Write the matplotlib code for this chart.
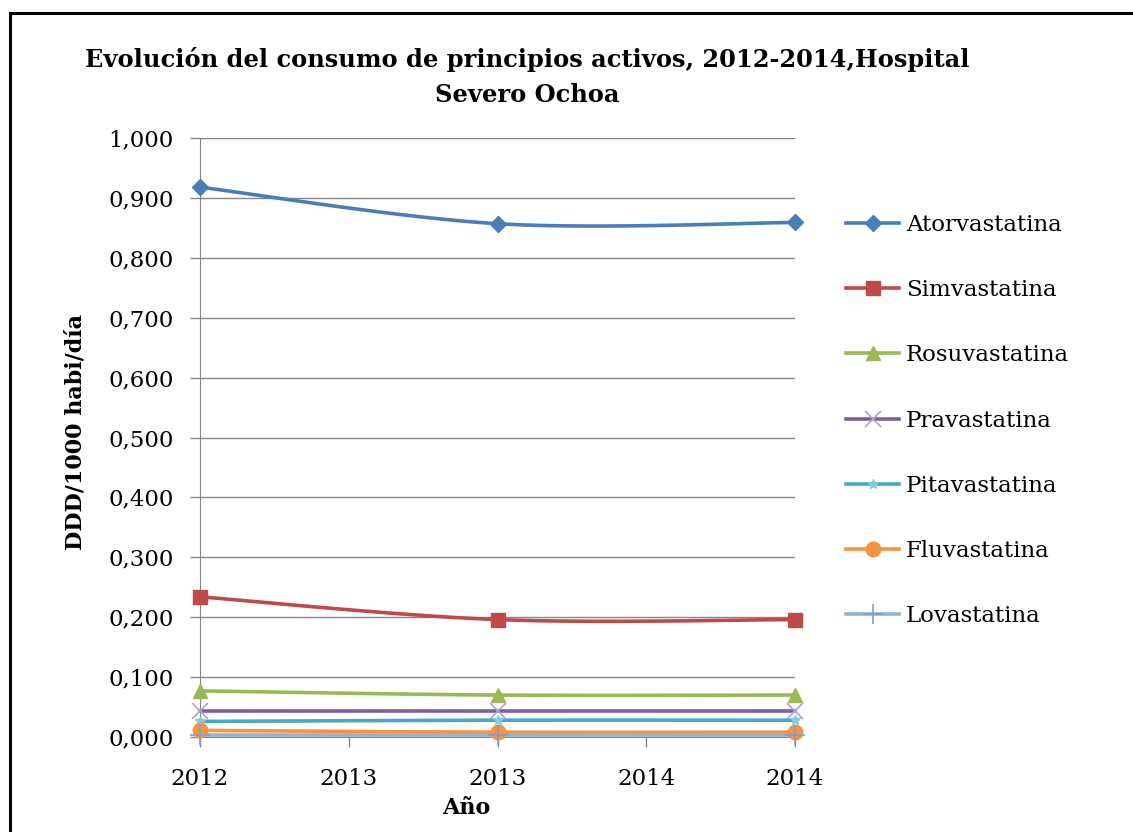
import numpy as np
import matplotlib
matplotlib.use('Agg')
import matplotlib.pyplot as plt
from matplotlib.patches import Rectangle

years = [2012, 2013, 2014]
tick_pos = [2012, 2012.5, 2013, 2013.5, 2014]
tick_labels = ['2012', '2013', '2013', '2014', '2014']
y_ticks = [0.0, 0.1, 0.2, 0.3, 0.4, 0.5, 0.6, 0.7, 0.8, 0.9, 1.0]

names = ['Atorvastatina', 'Simvastatina', 'Rosuvastatina', 'Pravastatina',
         'Pitavastatina', 'Fluvastatina', 'Lovastatina']
atorvastatina = [0.918, 0.857, 0.859]
simvastatina = [0.234, 0.196, 0.196]
rosuvastatina = [0.077, 0.070, 0.070]
pravastatina = [0.043, 0.043, 0.043]
pitavastatina = [0.026, 0.028, 0.028]
fluvastatina = [0.011, 0.008, 0.008]
lovastatina = [0.004, 0.004, 0.004]
series = [atorvastatina, simvastatina, rosuvastatina, pravastatina,
          pitavastatina, fluvastatina, lovastatina]

line_colors = ['#4A7EBB', '#BE4B48', '#98B954', '#7D60A0', '#46AAC5', '#F69240', '#95B3D7']
marker_colors = ['#4A7EBB', '#BE4B48', '#98B954', '#B3A2C7', '#7FCBE0', '#F69240', '#7F9FCF']
markers = ['D', 's', '^', 'x', '*', 'o', '+']
msizes = [8.5, 10.5, 10.5, 11, 7, 10.5, 14]

plt.rcParams['font.family'] = 'DejaVu Serif'


# Excel-like smoothed line (bezier through the points)
def smooth(x, y, n=40):
    x = np.asarray(x, float)
    y = np.asarray(y, float)
    px = np.concatenate([[x[0]], x, [x[-1]]])
    py = np.concatenate([[y[0]], y, [y[-1]]])
    xs, ys = [], []
    t = np.linspace(0, 1, n)
    for i in range(1, len(px) - 2):
        p0, p1, p2, p3 = [np.array([px[j], py[j]]) for j in range(i - 1, i + 3)]
        c1 = p1 + (p2 - p0) / 6.0
        c2 = p2 - (p3 - p1) / 6.0
        pts = ((1 - t) ** 3)[:, None] * p1 + (3 * (1 - t) ** 2 * t)[:, None] * c1 \
            + (3 * (1 - t) * t ** 2)[:, None] * c2 + (t ** 3)[:, None] * p2
        xs.extend(pts[:, 0])
        ys.extend(pts[:, 1])
    return xs, ys


fig = plt.figure(figsize=(11.33, 8.32), dpi=100)
ax = fig.add_axes([0.1765, 0.1142, 0.5252, 0.7199])

handles = []
for name, vals, lc, mc, mk, ms in zip(names, series, line_colors, marker_colors, markers, msizes):
    sx, sy = smooth(years, vals)
    ax.plot(sx, sy, color=lc, lw=2.6, solid_capstyle='round', clip_on=False, zorder=3)
    ax.plot(years, vals, ls='none', marker=mk, ms=ms, color=mc, mec=mc,
            mew=1.2 if mk in ('x', '+') else 1, clip_on=False, zorder=4)
    h, = ax.plot([], [], color=lc, lw=2.6, marker=mk, ms=ms, mfc=mc, mec=mc,
                 mew=1.2 if mk in ('x', '+') else 1)
    handles.append(h)

ax.set_xlim(2012, 2014)
ax.set_ylim(0, 1.0)
ax.set_xticks(tick_pos)
ax.set_xticklabels(tick_labels)
ax.set_yticks(y_ticks)
ax.set_yticklabels(['{:.3f}'.format(v).replace('.', ',') for v in y_ticks])
ax.yaxis.grid(True, color='#868686', lw=1)
ax.set_axisbelow(True)
for s in ['top', 'right']:
    ax.spines[s].set_visible(False)
for s in ['left', 'bottom']:
    ax.spines[s].set_color('#868686')
ax.tick_params(axis='both', colors='#868686', labelcolor='black', labelsize=16.5,
               length=7, width=1)
ax.tick_params(axis='x', pad=15)
ax.tick_params(axis='y', pad=12)

fig.text(76 / 1133, 1 - 432 / 832, 'DDD/1000 habi/día', rotation=90, ha='center', va='center',
         fontsize=16, fontweight='bold')
fig.text(466 / 1133, 1 - 808 / 832, 'Año', ha='center', va='center',
         fontsize=16, fontweight='bold')

fig.text(0.465, 0.929, 'Evolución del consumo de principios activos, 2012-2014,Hospital',
         ha='center', va='center', fontsize=17.4, fontweight='bold')
fig.text(0.465, 0.886, 'Severo Ochoa', ha='center', va='center', fontsize=17.4, fontweight='bold')

ax.legend(handles, names, loc='upper left', bbox_to_anchor=(1.071, 0.888), frameon=False,
          fontsize=16.5, handlelength=2.3, labelspacing=1.88, handletextpad=0.3,
          borderaxespad=0)

fig.patches.append(Rectangle((0.0088, -0.1), 1.2, 1.0844, transform=fig.transFigure,
                             fill=False, ec='black', lw=2.2))

fig.savefig('out.png', dpi=100)
